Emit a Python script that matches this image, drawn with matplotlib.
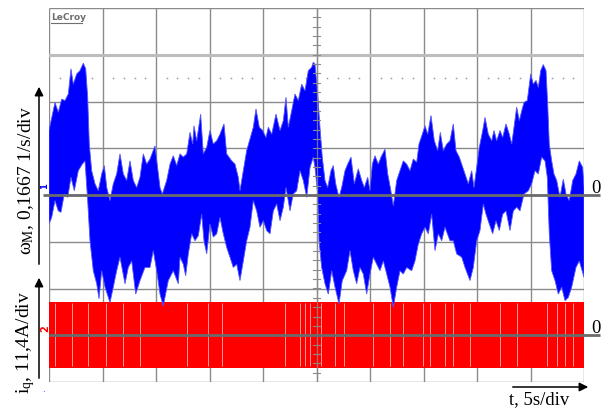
import numpy as np
import matplotlib
matplotlib.use("Agg")
import matplotlib.pyplot as plt
from matplotlib.patches import FancyArrowPatch

# ---- Scope traces, in screen divisions (t: 5 s/div, omega: 0.1667 1/s/div, iq: 11.4 A/div)
# Channel 1 (omega_M): upper and lower edges of the noisy speed trace
t_upper = [
    0.000, 0.112, 0.174, 0.237, 0.299, 0.361, 0.411, 0.454, 0.518, 0.579,
    0.641, 0.686, 0.723, 0.753, 0.798, 0.860, 0.921, 0.985, 1.034, 1.079,
    1.140, 1.202, 1.265, 1.327, 1.389, 1.452, 1.514, 1.576, 1.639, 1.701,
    1.763, 1.826, 1.888, 1.981, 2.075, 2.118, 2.200, 2.262, 2.323, 2.387,
    2.449,
    2.510, 2.574, 2.636, 2.686, 2.710, 2.761, 2.835, 2.884, 2.948, 3.009,
    3.071, 3.135, 3.196, 3.271, 3.321, 3.415, 3.477, 3.538, 3.570, 3.632,
    3.695, 3.757, 3.819, 3.869, 3.931, 3.994, 4.056, 4.099, 4.163, 4.243,
    4.318, 4.380, 4.430, 4.473, 4.536, 4.598, 4.660, 4.723, 4.785, 4.847,
    4.910, 4.940, 4.972,
    5.022, 5.065, 5.108, 5.159, 5.209, 5.271, 5.314, 5.359, 5.421, 5.471,
    5.533, 5.583, 5.645, 5.707, 5.781, 5.845, 5.894, 5.957, 6.000, 6.043,
    6.093, 6.155, 6.206, 6.280, 6.331, 6.380, 6.436, 6.499, 6.561, 6.622,
    6.686, 6.748, 6.809, 6.873, 6.916, 6.978, 7.028, 7.079, 7.140, 7.202,
    7.265, 7.314, 7.370, 7.434, 7.495,
    7.557, 7.607, 7.669, 7.714, 7.776, 7.837, 7.901, 7.944, 7.994, 8.043,
    8.107, 8.150, 8.211, 8.275, 8.318, 8.368, 8.430, 8.480, 8.542, 8.604,
    8.649, 8.692, 8.742, 8.791, 8.836, 8.879, 8.940, 9.004, 9.052, 9.103,
    9.146, 9.191, 9.239, 9.290, 9.321, 9.351, 9.396, 9.439, 9.490, 9.551,
    9.613, 9.664, 9.725, 9.789, 9.850, 9.912, 9.976, 10.000,
]
w_upper = [
    1.38, 1.98, 1.77, 2.05, 2.02, 2.16, 2.70, 2.37, 2.59, 2.66,
    2.82, 2.70, 2.09, 1.09, 0.52, 0.24, 0.09, 0.45, 0.63, 0.16,
    -0.12, 0.24, 0.45, 0.88, 0.45, 0.31, 0.73, 0.31, 0.16, 0.38,
    0.88, 0.66, 0.77, 1.05, 0.16, 0.02, 0.31, 0.66, 0.84, 0.63,
    0.88,
    0.81, 0.88, 1.34, 1.09, 1.48, 1.16, 1.73, 0.88, 1.02, 1.38,
    1.09, 1.16, 1.30, 1.52, 0.88, 0.73, 0.66, 0.38, 0.09, 0.52,
    0.95, 1.20, 1.45, 1.84, 1.45, 1.38, 1.23, 1.45, 1.30, 1.73,
    1.38, 1.59, 2.09, 1.45, 1.80, 2.16, 2.02, 2.37, 2.23, 2.66,
    2.73, 2.84, 2.80,
    2.16, 1.45, 0.81, 0.31, 0.16, 0.52, 0.63, 0.24, -0.05, 0.16,
    0.52, 0.66, 0.81, 0.24, 0.56, 0.31, 0.16, 0.38, 0.09, 0.66,
    0.84, 0.66, 0.81, 0.98, 0.45, 0.16, -0.23, 0.31, 0.52, 0.73,
    0.66, 0.52, 0.77, 0.70, 1.09, 1.30, 1.48, 1.30, 1.70, 1.16,
    0.95, 1.34, 0.95, 1.09, 1.16,
    1.52, 0.95, 0.81, 0.66, 0.45, 0.24, 0.52, 0.16, 0.59, 1.02,
    1.38, 1.66, 1.30, 1.16, 1.38, 1.16, 1.38, 1.23, 1.52, 1.30,
    1.09, 1.45, 1.88, 1.59, 1.80, 1.98, 2.02, 2.59, 2.37, 2.45,
    2.30, 2.66, 2.79, 2.66, 1.95, 1.09, 0.73, 0.45, 0.31, -0.05,
    0.34, 0.02, -0.12, 0.31, 0.45, 0.73, 0.59, 0.17,
]
t_lower = [
    0.000, 0.050, 0.112, 0.174, 0.224, 0.286, 0.350, 0.411, 0.473, 0.548,
    0.622, 0.673, 0.723, 0.766, 0.828, 0.892, 0.935, 0.985, 1.047, 1.140,
    1.202, 1.265, 1.327, 1.421, 1.482, 1.546, 1.621, 1.701, 1.794, 1.888,
    1.950, 2.013, 2.075, 2.136, 2.230, 2.323, 2.417,
    2.449, 2.510, 2.555, 2.604, 2.667, 2.729, 2.791, 2.854, 2.897, 2.948,
    3.009, 3.071, 3.135, 3.196, 3.258, 3.321, 3.383, 3.445, 3.508, 3.570,
    3.632, 3.695, 3.757, 3.819, 3.882, 3.944, 4.006, 4.069, 4.131, 4.193,
    4.256, 4.318, 4.380, 4.430, 4.505, 4.566, 4.630, 4.692, 4.753, 4.817,
    4.879, 4.940, 4.972,
    5.022, 5.047, 5.097, 5.159, 5.221, 5.284, 5.346, 5.421, 5.482, 5.564,
    5.626, 5.688, 5.751, 5.813, 5.875, 5.938, 6.000, 6.062, 6.125, 6.187,
    6.249, 6.312, 6.374, 6.436, 6.499, 6.561, 6.622, 6.686, 6.779, 6.841,
    6.903, 6.966, 7.028, 7.090, 7.153, 7.215, 7.277, 7.340, 7.402, 7.495,
    7.557, 7.620, 7.714, 7.776, 7.869, 7.931, 7.994, 8.056, 8.118, 8.168,
    8.230, 8.293, 8.355, 8.417, 8.480, 8.542, 8.617, 8.679, 8.742, 8.804,
    8.879, 8.959, 9.022, 9.084, 9.146, 9.209, 9.271, 9.314, 9.351, 9.396,
    9.458, 9.520, 9.583, 9.645, 9.707, 9.770, 9.850, 9.912, 10.000,
]
w_lower = [
    -0.62, -0.48, -0.12, -0.34, -0.37, 0.02, -0.05, 0.38, 0.09, 0.52,
    0.66, 0.73, -0.12, -0.98, -1.62, -1.90, -2.22, -1.62, -1.97, -2.30,
    -1.97, -1.62, -1.33, -1.90, -1.55, -1.41, -2.12, -1.83, -1.55, -1.55,
    -1.19, -1.62, -2.12, -2.37, -1.83, -1.62, -1.90,
    -1.33, -1.48, -1.73, -1.26, -0.83, -0.98, -0.87, -0.41, -0.98, -1.26,
    -0.62, -0.90, -0.83, -0.48, -0.83, -1.12, -1.33, -1.55, -1.48, -1.83,
    -1.41, -0.98, -0.69, -0.12, -0.34, -0.69, -0.55, -0.76, -0.83, -0.34,
    -0.19, -0.55, -0.26, 0.16, -0.34, 0.02, 0.09, 0.52, 0.31, -0.05,
    0.59, 0.81, 0.59,
    0.02, -0.98, -1.55, -1.90, -2.12, -1.62, -1.97, -2.33, -1.83, -1.62,
    -1.19, -1.62, -1.90, -1.55, -1.69, -2.12, -1.69, -1.33, -1.48, -1.62,
    -1.41, -1.69, -1.97, -2.40, -1.97, -1.62, -1.69, -1.55, -1.62, -1.41,
    -1.05, -0.83, -0.69, -0.83, -0.41, -1.19, -0.83, -0.98, -0.69, -0.98,
    -0.98, -1.26, -1.33, -1.55, -1.83, -1.55, -0.98, -0.76, -0.19, -0.41,
    -0.62, -0.83, -0.55, -0.76, -0.41, -0.34, -0.76, -0.34, -0.26, -0.34,
    0.02, 0.09, 0.24, 0.52, 0.45, 0.81, 0.73, 0.38, -0.83, -1.62,
    -1.83, -2.12, -1.97, -2.26, -2.19, -1.97, -1.55, -1.41, -1.76,
]

# Channel 2 (i_q): switching current band and its dropouts
iq_band = (-0.70, 0.71)
iq_gaps = [0.11, 0.43, 0.73, 1.07, 1.38, 1.70, 2.58, 2.97, 3.23, 4.41,
           4.69, 4.79, 4.88, 5.08, 5.35, 5.51, 6.06, 6.37, 6.62, 6.99,
           7.12, 7.40, 7.55, 7.87, 8.43, 8.74, 9.31, 9.50, 9.64, 9.79]

# Trace offsets on screen (divisions)
ch1_offset = 0.0
ch2_offset = -3.0
cursor_level = 2.5

# ---- figure -------------------------------------------------------------
W, H = 607, 410
plt.rcParams["mathtext.fontset"] = "custom"
plt.rcParams["mathtext.rm"] = "Liberation Serif"
plt.rcParams["mathtext.it"] = "Liberation Serif:italic"
serif = ["Liberation Serif", "DejaVu Serif"]

fig = plt.figure(figsize=(W / 100, H / 100), dpi=100)
fig.patch.set_facecolor("white")
ax = fig.add_axes([49 / W, 1 - 383 / H, 535 / W, 374 / H])
ax.set_xlim(0, 10)
ax.set_ylim(-4, 4)
ax.set_axis_off()

grid_c = "#8a8a8a"
for i in range(11):
    ax.plot([i, i], [-4, 4], color=grid_c, lw=1.0, zorder=1, solid_capstyle="butt")
for j in range(-4, 5):
    ax.plot([0, 10], [j, j], color=grid_c, lw=1.0, zorder=1, solid_capstyle="butt")
ax.plot([0, 10], [3, 3], color="#bdbdbd", lw=2.2, zorder=1)

# cursor dots
dots_t = [k * 0.2 for k in range(1, 50) if k % 5 != 0]
ax.plot(dots_t, [cursor_level] * len(dots_t), ls="none", marker="s", ms=1.1,
        mec="none", mfc="#9a9a9a", zorder=1.5)

# channel 2 band
ax.fill_between([0, 10], ch2_offset + iq_band[0], ch2_offset + iq_band[1],
                color="#ff0000", lw=0, zorder=3)
ax.vlines(iq_gaps, ch2_offset + iq_band[0] + 0.05, ch2_offset + iq_band[1] - 0.03,
          color="white", lw=0.7, alpha=0.6, zorder=3.5)

# channel 1 envelope
poly_t = np.r_[t_upper, t_lower[::-1]]
poly_w = np.r_[w_upper, w_lower[::-1]] + ch1_offset
ax.fill(poly_t, poly_w, facecolor="#0000ff", edgecolor="#5555ff", lw=0.6, zorder=4)

# centre axis with minor ticks
ax.plot([5, 5], [-4, 4], color=grid_c, lw=0.9, alpha=0.8, zorder=5)
for v in np.arange(-4, 4.001, 0.2):
    ax.plot([4.94, 5.06], [v, v], color=grid_c, lw=0.8, zorder=5)

# zero reference lines
ax.plot([-0.11, 10.3], [ch1_offset, ch1_offset], color="#6b6b6b", lw=2.0,
        clip_on=False, zorder=6, solid_capstyle="butt")
ax.plot([0, 10.3], [ch2_offset, ch2_offset], color="#6b6b6b", lw=2.0,
        clip_on=False, zorder=6, solid_capstyle="butt")
ax.text(10.22, ch1_offset + 0.17, "0", fontsize=13.5, family=serif,
        ha="center", va="center", clip_on=False)
ax.text(10.22, ch2_offset + 0.17, "0", fontsize=13.5, family=serif,
        ha="center", va="center", clip_on=False)

# channel markers on the left edge
fig.text(45 / W, 1 - 186 / H, "1", color="#0000ff", fontsize=6, rotation=90,
         ha="center", va="center", weight="bold")
fig.text(45 / W, 1 - 329 / H, "2", color="#ff0000", fontsize=7, rotation=90,
         ha="center", va="center", weight="bold")
fig.text(43 / W, 1 - 390 / H, ".", color="#0000ff", fontsize=6,
         ha="center", va="center")

# brand tag
fig.text(51 / W, 1 - 18 / H, "LeCroy", color="#6f6f6f", fontsize=6.5,
         weight="bold", ha="left", va="center")
fig.add_artist(plt.Line2D([51 / W, 82 / W], [1 - 23.5 / H, 1 - 23.5 / H],
                          color="#6f6f6f", lw=0.8))

# axis arrows and labels
for p0, p1 in [((39, 268), (39, 85)), ((39, 382), (39, 276)), ((510, 388), (591, 388))]:
    fig.add_artist(FancyArrowPatch(
        (p0[0] / W, 1 - p0[1] / H), (p1[0] / W, 1 - p1[1] / H),
        transform=fig.transFigure, arrowstyle="-|>", color="black",
        lw=1.1, mutation_scale=13))

fig.text(26 / W, 1 - 181 / H, r"$\mathrm{\omega}_{\mathrm{M}}$, 0,1667 1/s/div",
         family=serif, fontsize=14, rotation=90, ha="center", va="center")
fig.text(26 / W, 1 - 342 / H, r"$\mathrm{i}_{\mathrm{q}}$, 11,4A/div",
         family=serif, fontsize=14, rotation=90, ha="center", va="center")
fig.text(539 / W, 1 - 400 / H, "t, 5s/div", family=serif, fontsize=13.5,
         ha="center", va="center")

fig.savefig("out.png", dpi=100, facecolor="white")
